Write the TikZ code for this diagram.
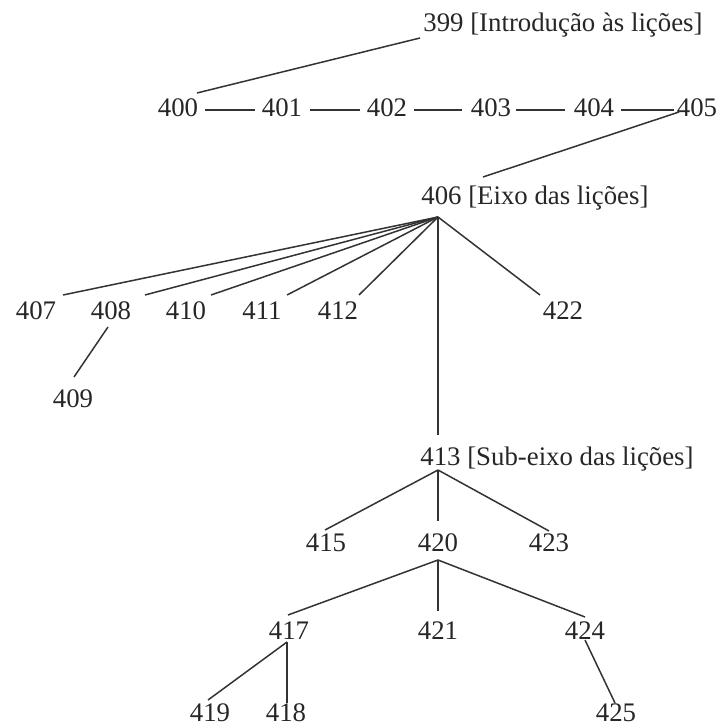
\documentclass[tikz,border=0pt]{standalone}
\usepackage{fontspec}
\setmainfont{Liberation Serif}
\begin{document}
\begin{tikzpicture}[x=0.5pt,y=-0.5pt,
  lbl/.style={inner sep=0pt, anchor=base, font=\fontsize{13.4}{15}\selectfont, text=black!85},
  conn/.style={draw=black!80, line width=0.75pt}]
\useasboundingbox (0,0) rectangle (718,726);
% labels
\node[lbl, anchor=base west] (n399) at (423,32) {399 [Introdução às lições]};
\node[lbl] (n400) at (178,117) {400};
\node[lbl] (n401) at (282,117) {401};
\node[lbl] (n402) at (387,117) {402};
\node[lbl] (n403) at (491,117) {403};
\node[lbl] (n404) at (594,117) {404};
\node[lbl] (n405) at (697,117) {405};
\node[lbl, anchor=base west] (n406) at (421,205) {406 [Eixo das lições]};
\node[lbl] (n407) at (36,320) {407};
\node[lbl] (n408) at (111,320) {408};
\node[lbl] (n410) at (186,320) {410};
\node[lbl] (n411) at (262,320) {411};
\node[lbl] (n412) at (338,320) {412};
\node[lbl] (n422) at (563,320) {422};
\node[lbl] (n409) at (73,407) {409};
\node[lbl, anchor=base west] (n413) at (420,465) {413 [Sub-eixo das lições]};
\node[lbl] (n415) at (326,551) {415};
\node[lbl] (n420) at (438,551) {420};
\node[lbl] (n423) at (549,551) {423};
\node[lbl] (n417) at (289,639) {417};
\node[lbl] (n421) at (438,639) {421};
\node[lbl] (n424) at (585,639) {424};
\node[lbl] (n419) at (210,721) {419};
\node[lbl] (n418) at (286,721) {418};
\node[lbl] (n425) at (616,721) {425};
% connector end points
\coordinate (c399) at (420,38);
\coordinate (c400) at (197,93);
\coordinate (r400) at (205,110); \coordinate (l401) at (255,110);
\coordinate (r401) at (310,110); \coordinate (l402) at (360,110);
\coordinate (r402) at (414,110); \coordinate (l403) at (462,110);
\coordinate (r403) at (516,110); \coordinate (l404) at (565,110);
\coordinate (r404) at (621,110); \coordinate (l405) at (674,110);
\coordinate (c405) at (679,112);
\coordinate (c406) at (483,177);
\coordinate (a406) at (438,217);
\coordinate (t407) at (63,295);
\coordinate (t408) at (145,295);
\coordinate (t410) at (211,295);
\coordinate (t411) at (287,295);
\coordinate (t412) at (359,295);
\coordinate (t422) at (540,295);
\coordinate (b408) at (108,327);
\coordinate (t409) at (74,377);
\coordinate (t413) at (438,435);
\coordinate (a413) at (438,470);
\coordinate (t415) at (325,530);
\coordinate (t420) at (438,521);
\coordinate (t423) at (549,531);
\coordinate (a420) at (438,560);
\coordinate (t417) at (288,615);
\coordinate (t421) at (438,611);
\coordinate (t424) at (585,617);
\coordinate (a417) at (287,642);
\coordinate (t419) at (208,700);
\coordinate (t418) at (287,703);
\coordinate (b424) at (585,640);
\coordinate (t425) at (615,703);
% connectors
\draw[conn] (c399) -- (c400);
\draw[conn] (r400) -- (l401);
\draw[conn] (r401) -- (l402);
\draw[conn] (r402) -- (l403);
\draw[conn] (r403) -- (l404);
\draw[conn] (r404) -- (l405);
\draw[conn] (c405) -- (c406);
\foreach \e in {t407,t408,t410,t411,t412,t422,t413}
  \draw[conn] (a406) -- (\e);
\draw[conn] (b408) -- (t409);
\foreach \e in {t415,t420,t423}
  \draw[conn] (a413) -- (\e);
\foreach \e in {t417,t421,t424}
  \draw[conn] (a420) -- (\e);
\foreach \e in {t419,t418}
  \draw[conn] (a417) -- (\e);
\draw[conn] (b424) -- (t425);
\end{tikzpicture}
\end{document}
